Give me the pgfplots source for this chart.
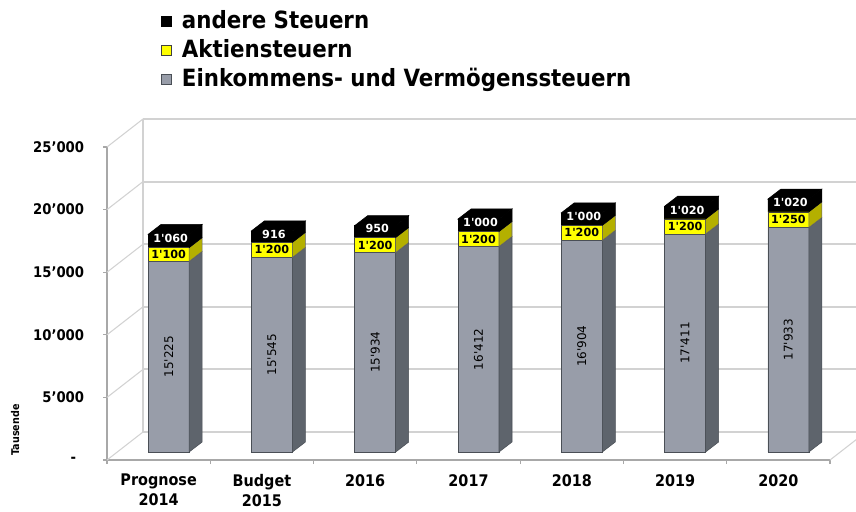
\documentclass[border=0pt]{standalone}
\usepackage{pgfplots}
\pgfplotsset{compat=1.18}
\usepackage{pgfplotstable}
\usepackage{fontspec}
\setmainfont{DejaVu Sans Condensed}
\newfontfamily\barfont{DejaVu Sans}

\definecolor{gfront}{HTML}{989DA9}
\definecolor{gside}{HTML}{5E646C}
\definecolor{gedge}{HTML}{4A4F56}
\definecolor{yfront}{HTML}{FFFF00}
\definecolor{yside}{HTML}{B4B000}
\definecolor{wallgrid}{HTML}{D2D2D2}
\definecolor{axisgray}{HTML}{A8A8A8}

\pgfplotstableread{
x eink akt andere
0 15225 1100 1060
1 15545 1200 916
2 15934 1200 950
3 16412 1200 1000
4 16904 1200 1000
5 17411 1200 1020
6 17933 1250 1020
}\data

\def\bwh{15.375}
\def\ddx{9.75}
\def\ddy{7.5}
\def\ys{0.00939}

\pgfdeclareplotmark{sideface}{%
  \begingroup
    \pgfkeys{/pgf/fpu=true,/pgf/fpu/output format=fixed}%
    \pgfmathparse{\hraw*\ys}%
    \xdef\hh{\pgfmathresult}%
  \endgroup
  \pgfpathmoveto{\pgfqpoint{\bwh pt}{0pt}}%
  \pgfpathlineto{\pgfpoint{\bwh pt+\ddx pt}{\ddy pt}}%
  \pgfpathlineto{\pgfpoint{\bwh pt+\ddx pt}{\ddy pt-\hh pt}}%
  \pgfpathlineto{\pgfpoint{\bwh pt}{-\hh pt}}%
  \pgfpathclose
  \pgfusepathqfillstroke
}
\pgfdeclareplotmark{topface}{%
  \pgfpathmoveto{\pgfqpoint{-\bwh pt}{0pt}}%
  \pgfpathlineto{\pgfqpoint{\bwh pt}{0pt}}%
  \pgfpathlineto{\pgfpoint{\bwh pt+\ddx pt}{\ddy pt}}%
  \pgfpathlineto{\pgfpoint{-\bwh pt+\ddx pt}{\ddy pt}}%
  \pgfpathclose
  \pgfusepathqfillstroke
}

\pgfkeys{/pgf/number format/.cd, 1000 sep={'}, fixed, precision=0, assume math mode=true}

\pgfplotsset{
  common/.style={scale only axis, width=542.25pt, height=234.75pt,
    xmin=-0.5, xmax=6.5, ymin=0, ymax=25000, anchor=south west,
    scaled y ticks=false},
}

\begin{document}
\begin{tikzpicture}
% ---------- wall axis ----------
\begin{axis}[common, at={(80.25pt,-345pt)}, clip=false,
  axis x line*=bottom, axis y line*=left,
  axis line style={draw=axisgray, line width=0.8pt, -},
  tick align=outside, major tick length=3pt,
  tick style={draw=axisgray, line width=0.8pt},
  xtick={-0.5,0.5,1.5,2.5,3.5,4.5,5.5,6.5}, xticklabels={},
  extra x ticks={0,1,2,3,4,5,6},
  extra x tick labels={{Prognose\\2014},{Budget\\2015},2016,2017,2018,2019,2020},
  extra x tick style={major tick length=0pt, tick style={draw=none},
    xticklabel style={align=center, anchor=north, inner sep=0pt, yshift=-10.5pt,
      font=\bfseries\fontsize{12}{15}\selectfont}},
  ytick={0,5000,10000,15000,20000,25000},
  yticklabels={{-\kern6pt},5'000,10'000,15'000,20'000,25'000},
  yticklabel style={anchor=east, inner sep=0pt, xshift=-14pt,
    font=\bfseries\fontsize{11}{13}\selectfont},
  ylabel={Tausende},
  every axis y label/.style={at={(axis description cs:-0.127,0.096)}, rotate=90,
    anchor=center, font=\bfseries\fontsize{8}{9}\selectfont},
]
\pgfplotsinvokeforeach{0,5000,10000,15000,20000,25000}{
  \draw[wallgrid, line width=1.4pt] ([xshift=27pt,yshift=21pt]axis cs:-0.5,#1) -- ([xshift=27pt,yshift=21pt]axis cs:6.5,#1);
  \draw[wallgrid, line width=0.8pt] (axis cs:-0.5,#1) -- ([xshift=27pt,yshift=21pt]axis cs:-0.5,#1);
}
\draw[wallgrid, line width=0.8pt] ([xshift=27pt,yshift=21pt]axis cs:-0.5,0) -- ([xshift=27pt,yshift=21pt]axis cs:-0.5,25000);
\draw[wallgrid, line width=0.8pt] (axis cs:6.5,0) -- ([xshift=27pt,yshift=21pt]axis cs:6.5,0);
\end{axis}

% ---------- front faces (stacked bars) ----------
\begin{axis}[common, at={(87.75pt,-339pt)}, hide axis, clip=false,
  ybar stacked, bar width=30.75pt,
  reverse legend,
  legend cell align=left,
  legend image code/.code={\draw[#1] (0pt,-2.5pt) rectangle (7.5pt,5pt);},
  legend style={at={(0.061,1.4185)}, anchor=north west, draw=none, fill=none,
    inner sep=0pt, row sep=0pt, column sep=6pt,
    font=\bfseries\fontsize{17.8}{21}\selectfont,
    nodes={text height=13.5pt, text depth=5.25pt, inner sep=1.5pt}},
]
\addplot[fill=gfront, draw=gedge, line width=0.4pt] table[x=x, y=eink] {\data};
\addlegendentry{Einkommens- und Vermögenssteuern}
\addplot[fill=yfront, draw=black!75, line width=0.4pt] table[x=x, y=akt] {\data};
\addlegendentry{Aktiensteuern}
\addplot[fill=black, draw=black, line width=0.4pt] table[x=x, y=andere] {\data};
\addlegendentry{andere Steuern}
\end{axis}

% ---------- side/top faces and value labels ----------
\begin{axis}[common, at={(87.75pt,-339pt)}, hide axis, clip=false]
\addplot[only marks, mark=sideface, mark options={fill=gside, draw=gedge, line width=0.4pt},
  visualization depends on={\thisrow{eink} \as \hraw}]
  table[x=x, y=eink] {\data};
\addplot[only marks, mark=sideface, mark options={fill=yside, draw=black!60, line width=0.4pt},
  visualization depends on={\thisrow{akt} \as \hraw}]
  table[x=x, y expr=\thisrow{eink}+\thisrow{akt}] {\data};
\addplot[only marks, mark=sideface, mark options={fill=black, draw=black, line width=0.4pt},
  visualization depends on={\thisrow{andere} \as \hraw}]
  table[x=x, y expr=\thisrow{eink}+\thisrow{akt}+\thisrow{andere}] {\data};
\addplot[only marks, mark=topface, mark options={fill=black, draw=black, line width=0.4pt}]
  table[x=x, y expr=\thisrow{eink}+\thisrow{akt}+\thisrow{andere}] {\data};
% labels
\addplot[draw=none, mark=none, point meta=explicit,
  nodes near coords, nodes near coords align={center},
  every node near coord/.append style={rotate=90, anchor=center, text=black,
    font=\barfont\fontsize{9}{10}\selectfont}]
  table[x=x, y expr=\thisrow{eink}/2, meta=eink] {\data};
\addplot[draw=none, mark=none, point meta=explicit,
  nodes near coords, nodes near coords align={center},
  every node near coord/.append style={anchor=center, text=black,
    font=\barfont\bfseries\fontsize{8.4}{9}\selectfont}]
  table[x=x, y expr=\thisrow{eink}+\thisrow{akt}/2, meta=akt] {\data};
\addplot[draw=none, mark=none, point meta=explicit,
  nodes near coords, nodes near coords align={center},
  every node near coord/.append style={anchor=center, text=white, xshift=1.5pt, yshift=2pt,
    font=\barfont\bfseries\fontsize{8.4}{9}\selectfont}]
  table[x=x, y expr=\thisrow{eink}+\thisrow{akt}+\thisrow{andere}/2, meta=andere] {\data};
\end{axis}

\pgfresetboundingbox
\path[use as bounding box] (0,0) rectangle (642pt,-383.25pt);
\end{tikzpicture}
\end{document}
